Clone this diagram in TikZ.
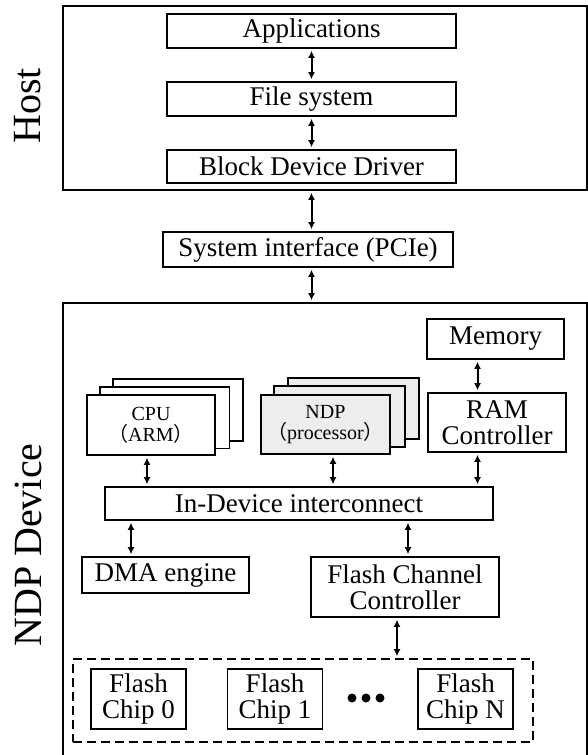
\documentclass[tikz,border=0pt]{standalone}
\usepackage{fontspec}
\setmainfont{Liberation Serif}
\newfontfamily\cjk{Noto Sans CJK SC}
\usetikzlibrary{arrows.meta,backgrounds}

\tikzset{
  blk/.style={draw, line width=1.6pt, fill=white, inner sep=0pt, align=center,
    font=\fontsize{27}{26}\selectfont},
  smalltxt/.style={font=\fontsize{20}{21}\selectfont},
  frame/.style={draw, line width=1.6pt, inner sep=0pt},
  biarrow/.style={{Latex[length=7pt,width=7pt]}-{Latex[length=7pt,width=7pt]},
    line width=2pt, shorten <=2pt, shorten >=2pt},
  sidelbl/.style={rotate=90, font=\fontsize{40}{40}\selectfont}
}

\begin{document}
\begin{tikzpicture}[x=1pt,y=-1pt]
  \useasboundingbox (0,0) rectangle (588,755);

  %% host side
  \node[frame, minimum width=524pt, minimum height=184pt] (host) at (325,98) {};
  \node[sidelbl] (hostlbl) at (28,106) {Host};
  \node[blk, minimum width=289pt, minimum height=34pt] (app) at (311.5,31) {Applications};
  \node[blk, minimum width=289pt, minimum height=34pt] (fs) at (311.5,99) {File system};
  \node[blk, minimum width=289pt, minimum height=33pt] (bdd) at (311.5,166.5) {Block Device Driver};

  \draw[biarrow] (app) -- (fs);
  \draw[biarrow] (fs) -- (bdd);

  %% interface
  \node[blk, minimum width=290pt, minimum height=35pt] (sys) at (308,249.5) {System interface (PCIe)};

  %% device side
  \node[frame, minimum width=524pt, minimum height=467pt] (dev) at (325,536.5) {};
  \node[sidelbl] (devlbl) at (28,545) {NDP Device};

  \draw[biarrow] (host.south -| app) -- (sys.north -| app);
  \draw[biarrow] (sys.south -| app) -- (dev.north -| app);

  \node[blk, minimum width=137pt, minimum height=40pt] (mem) at (495.5,339) {Memory};
  \node[blk, minimum width=138pt, minimum height=59pt] (ram) at (497,422.5) {RAM\\Controller};
  \node[blk, smalltxt, minimum width=128pt, minimum height=60pt] (cpu) at (151,425)
    {CPU\\{\cjk （}ARM{\cjk ）}};
  \node[blk, smalltxt, fill=black!7, minimum width=129pt, minimum height=59pt] (ndp) at (325.5,424.5)
    {NDP\\{\cjk （}processor{\cjk ）}};

  %% stacked copies behind the cores
  \begin{scope}[on background layer]
    \foreach \k in {2,1} {
      \draw[line width=1.6pt, fill=white]
        ([shift={(\k*13.5,-\k*7.5)}]cpu.south west) rectangle ([shift={(\k*13.5,-\k*7.5)}]cpu.north east);
      \draw[line width=1.6pt, fill=black!7]
        ([shift={(\k*14,-\k*8)}]ndp.south west) rectangle ([shift={(\k*14,-\k*8)}]ndp.north east);
    }
  \end{scope}

  \node[blk, minimum width=388pt, minimum height=33pt] (bus) at (299,503.5) {In-Device interconnect};
  \node[blk, minimum width=167pt, minimum height=36pt] (dma) at (165.5,575) {DMA engine};
  \node[blk, minimum width=188pt, minimum height=60pt] (fcc) at (405,587) {Flash Channel\\Controller};

  \coordinate (ramx) at (477.5,0);
  \draw[biarrow] (ramx |- mem.south) -- (ramx |- ram.north);
  \draw[biarrow] (ramx |- ram.south) -- (ramx |- bus.north);
  \draw[biarrow] ([xshift=-4pt]cpu.south) -- ([xshift=-4pt]cpu.south |- bus.north);
  \draw[biarrow] ([xshift=7.5pt]ndp.south) -- ([xshift=7.5pt]ndp.south |- bus.north);
  \draw[biarrow] ([xshift=-34.5pt]dma.north |- bus.south) -- ([xshift=-34.5pt]dma.north);
  \draw[biarrow] ([xshift=3pt]fcc.north |- bus.south) -- ([xshift=3pt]fcc.north);

  %% flash chips
  \node[draw, line width=1.6pt, dash pattern=on 9pt off 5pt, minimum width=460pt, minimum height=83pt]
    (chips) at (303,700.5) {};
  \foreach \nm/\cx/\lbl in {chip0/138.5/0, chip1/275/1, chipN/465.5/N}
    \node[blk, minimum width=95pt, minimum height=60pt] (\nm) at (\cx,699) {Flash\\Chip \lbl};
  \foreach \dx in {352,366,380}
    \fill (\dx,698) circle (4.5pt);

  \draw[biarrow] ([xshift=-8pt]fcc.south) -- ([xshift=-8pt]fcc.south |- chips.north);

\end{tikzpicture}
\end{document}
